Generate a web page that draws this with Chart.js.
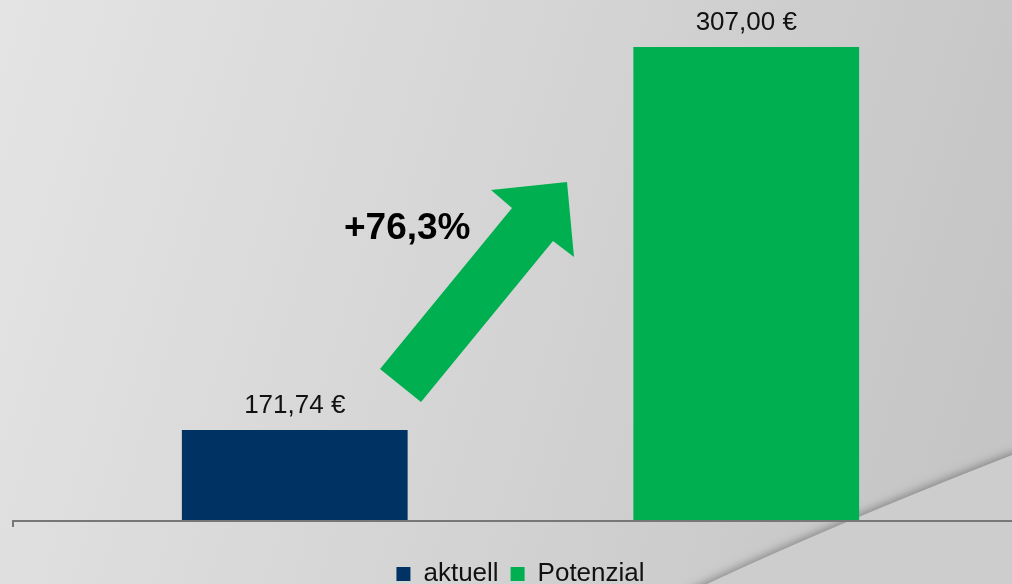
<!DOCTYPE html>
<html>
<head>
<meta charset="utf-8">
<script src="https://cdn.jsdelivr.net/npm/chart.js@4"></script>
<style>
  html, body { margin: 0; padding: 0; overflow: hidden; width: 1012px; height: 584px; }
  #wrap { width: 1012px; height: 600px; }
</style>
</head>
<body>
<div id="wrap"><canvas id="myChart" width="1012" height="600"></canvas></div>
<script>
// data
const categories = ['Umsatz'];
const seriesNames = ['aktuell', 'Potenzial'];
const seriesValues = [171.74, 307.00];
const seriesColors = ['#003263', '#00B050'];
const growthLabel = '+76,3%';
const yMin = 140;
const yMax = 323.6;

const FONT = "'Liberation Sans', Arial, sans-serif";

const formatEuro = (v) => v.toFixed(2).replace('.', ',') + ' €';

// background with soft gradient and the swoosh in the lower right
const backgroundPlugin = {
    id: 'bg',
    beforeDraw(chart) {
        const ctx = chart.ctx;
        const w = chart.width, h = chart.height;
        ctx.save();
        const g = ctx.createLinearGradient(0, 0, 1012, 300);
        g.addColorStop(0, '#e4e4e4');
        g.addColorStop(0.5, '#d5d5d5');
        g.addColorStop(1, '#c5c5c5');
        ctx.fillStyle = g;
        ctx.fillRect(0, 0, w, h);

        ctx.beginPath();
        ctx.moveTo(690, 592);
        ctx.quadraticCurveTo(820, 530, 1012, 455);
        ctx.lineTo(1030, 455);
        ctx.lineTo(1030, 620);
        ctx.lineTo(690, 620);
        ctx.closePath();
        ctx.shadowColor = 'rgba(0,0,0,0.35)';
        ctx.shadowBlur = 10;
        ctx.shadowOffsetY = -2;
        ctx.fillStyle = '#cdcdcd';
        ctx.fill();
        ctx.restore();
    }
};

// axis line, value labels, arrow and percentage
const overlayPlugin = {
    id: 'overlay',
    afterDatasetsDraw(chart) {
        const ctx = chart.ctx;
        const area = chart.chartArea;
        ctx.save();

        // axis line with small tick on the left
        ctx.strokeStyle = '#777777';
        ctx.lineWidth = 2;
        ctx.beginPath();
        ctx.moveTo(13, area.bottom + 1);
        ctx.lineTo(1012, area.bottom + 1);
        ctx.moveTo(13, area.bottom);
        ctx.lineTo(13, area.bottom + 7);
        ctx.stroke();

        // value labels
        ctx.fillStyle = '#111111';
        ctx.font = '26px ' + FONT;
        ctx.textAlign = 'center';
        ctx.textBaseline = 'alphabetic';
        chart.data.datasets.forEach((ds, i) => {
            const meta = chart.getDatasetMeta(i);
            meta.data.forEach((bar, j) => {
                ctx.fillText(formatEuro(ds.data[j]), bar.x, bar.y - 17);
            });
        });

        // arrow
        ctx.fillStyle = '#00B050';
        ctx.beginPath();
        ctx.moveTo(380, 369);
        ctx.lineTo(512, 208);
        ctx.lineTo(491, 190);
        ctx.lineTo(567, 182);
        ctx.lineTo(574, 257);
        ctx.lineTo(553, 241);
        ctx.lineTo(421, 402);
        ctx.closePath();
        ctx.fill();

        // growth text
        ctx.fillStyle = '#000000';
        ctx.font = 'bold 37px ' + FONT;
        ctx.textAlign = 'left';
        ctx.fillText(growthLabel, 344, 239);

        ctx.restore();
    }
};

const datasets = seriesNames.map((name, i) => ({
    label: name,
    data: [seriesValues[i]],
    backgroundColor: seriesColors[i],
    borderWidth: 0,
    barPercentage: 0.5,
    categoryPercentage: 1.0
}));

const config = {
    type: 'bar',
    data: {
        labels: categories,
        datasets: datasets
    },
    options: {
        responsive: false,
        devicePixelRatio: 1,
        animation: false,
        layout: {
            padding: { left: 69, right: 40, top: 0, bottom: 3 }
        },
        plugins: {
            legend: {
                position: 'bottom',
                labels: {
                    boxWidth: 14,
                    boxHeight: 14,
                    padding: 12,
                    color: '#111111',
                    font: { family: FONT, size: 26 }
                }
            },
            tooltip: { enabled: false }
        },
        scales: {
            x: {
                display: true,
                grid: { display: false },
                border: { display: false },
                ticks: { display: false },
                afterFit: (scale) => { scale.height = 29; }
            },
            y: {
                display: false,
                min: yMin,
                max: yMax
            }
        }
    },
    plugins: [backgroundPlugin, overlayPlugin]
};

const myChart = new Chart(document.getElementById('myChart').getContext('2d'), config);
</script>
</body>
</html>
